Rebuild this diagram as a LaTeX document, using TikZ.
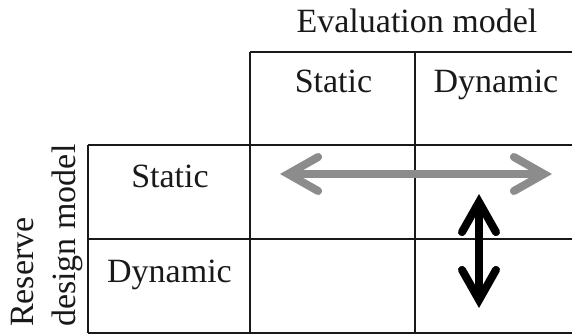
\documentclass[tikz,border=0pt]{standalone}
\usepackage{fontspec}
\setmainfont{Liberation Serif}
\usetikzlibrary{arrows.meta}
\begin{document}
\begin{tikzpicture}[x=1pt,y=1pt,
  grid/.style={line width=1.7pt,black!90},
  lbl/.style={inner sep=0pt,font=\fontsize{34}{37}\selectfont,text=black!90},
  barb/.tip={Straight Barb[length=30pt,width=34pt,line join=miter,line cap=round]},
  grayarrow/.style={line width=8pt,color=black!45,{barb}-{barb}},
  blackarrow/.style={line width=8pt,color=black,{barb}-{barb}}
]
\useasboundingbox (0,0) rectangle (572,335);
% grid
\draw[grid] (250,283) -- (572,283);
\draw[grid] (88,190) -- (572,190);
\draw[grid] (88,96) -- (572,96);
\draw[grid] (88,2) -- (572,2);
\draw[grid] (88,190) -- (88,2);
\draw[grid] (250,283) -- (250,2);
\draw[grid] (415,283) -- (415,2);
% labels
\node[lbl,anchor=base] (eval) at (417,302) {Evaluation model};
\node[lbl,anchor=base] (cs) at (333.5,242) {Static};
\node[lbl,anchor=base] (cd) at (496,242) {Dynamic};
\node[lbl,anchor=base] (rs) at (170,148) {Static};
\node[lbl,anchor=base] (rd) at (169.5,53) {Dynamic};
\node[lbl,font=\fontsize{34}{42}\selectfont,rotate=90,align=left,anchor=base west] (rdm) at (75,8) {Reserve\\design model};
% arrows
\coordinate (gl) at (280,161);
\coordinate (gr) at (552,161);
\coordinate (bt) at (479,141);
\coordinate (bb) at (479,27);
\draw[grayarrow] (gl) -- (gr);
\draw[blackarrow] (bt) -- (bb);
\end{tikzpicture}
\end{document}
